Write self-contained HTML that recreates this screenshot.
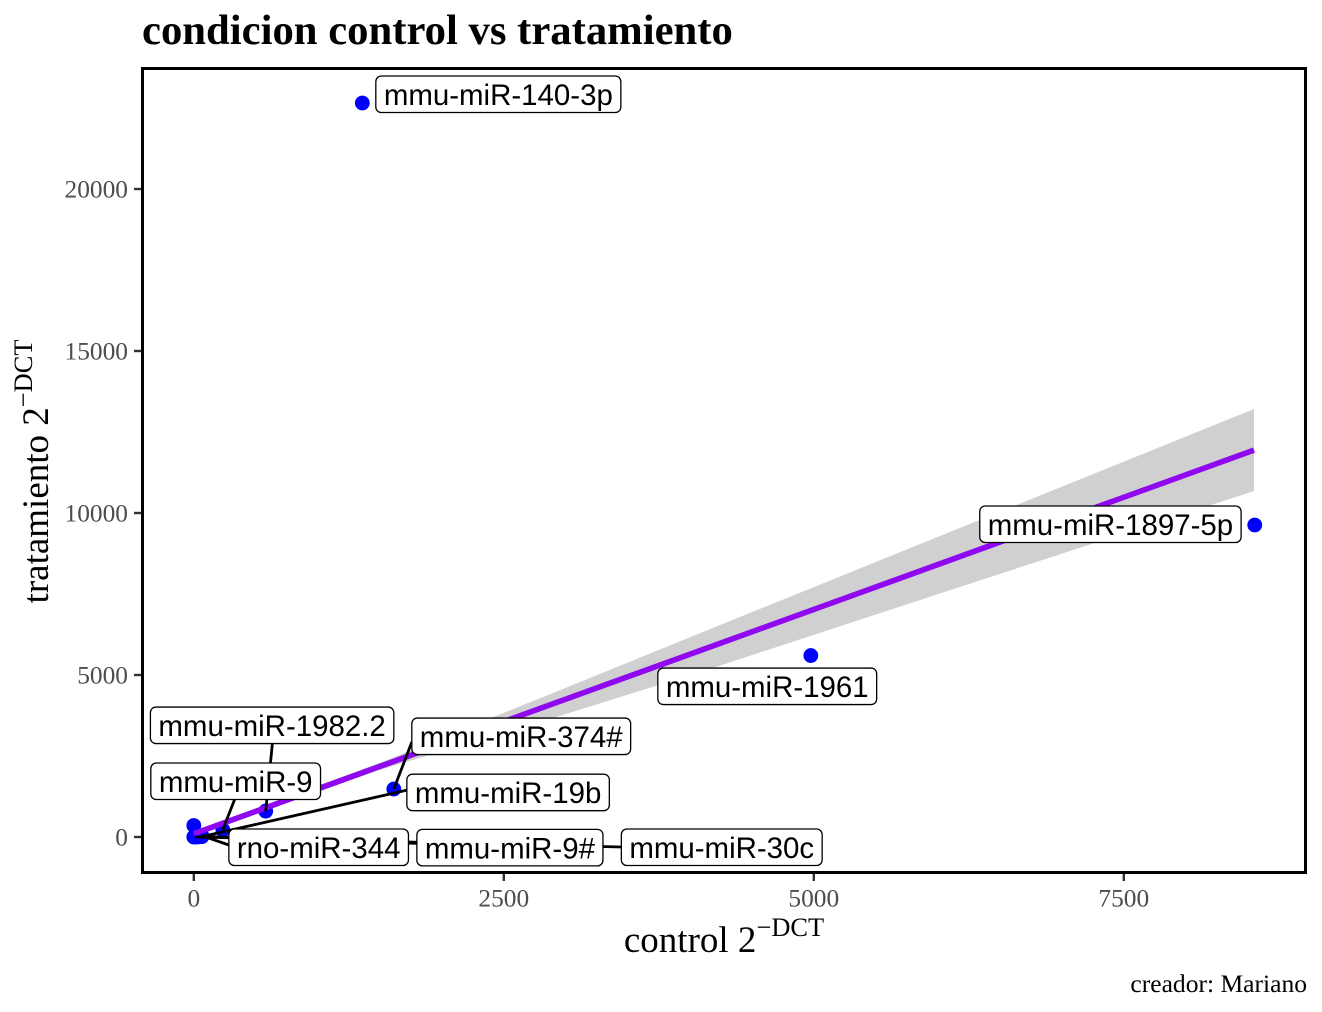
<!DOCTYPE html>
<html lang="es">
<head>
<meta charset="utf-8">
<title>condicion control vs tratamiento</title>
<style>
html,body{margin:0;padding:0;background:#fff;}
svg{display:block;}
.serif{font-family:"Liberation Serif",serif;}
.lbl{font-family:"Liberation Sans",sans-serif;font-size:29.45px;fill:#000;}
</style>
</head>
<body>
<svg id="chart" xmlns="http://www.w3.org/2000/svg" width="1322" height="1012" viewBox="0 0 1322 1012">
  <rect x="0" y="0" width="1322" height="1012" fill="#fff"/>
  <text class="serif" x="142" y="43.8" font-size="42.7" font-weight="bold" fill="#000">condicion control vs tratamiento</text>
  <g id="ribbon-layer"></g>
  <g id="point-layer"></g>
  <g id="line-layer"></g>
  <g id="label-layer"></g>
  <rect x="142.5" y="68.5" width="1163" height="804" fill="none" stroke="#000" stroke-width="3"/>
  <g id="axis-layer"></g>
  <text class="serif" x="724" y="952" text-anchor="middle" font-size="37" fill="#000">control 2<tspan dy="-16" font-size="26.4">−DCT</tspan></text>
  <text class="serif" transform="translate(48 471.5) rotate(-90)" text-anchor="middle" font-size="37" fill="#000">tratamiento 2<tspan dy="-16" font-size="26.4">−DCT</tspan></text>
  <text class="serif" x="1307" y="992" text-anchor="end" font-size="25.55" fill="#000">creador: Mariano</text>
</svg>
<script>
// ---- data ----
const pointNames = ["mmu-miR-140-3p","mmu-miR-1897-5p","mmu-miR-1961","mmu-miR-374#","mmu-miR-1982.2","mmu-miR-9","mmu-miR-19b","rno-miR-344","mmu-miR-9#","mmu-miR-30c","","",""];
const controlValues = [1359,8556,4976,1613,580,234,65,65,65,10,0,0,30];
const tratamientoValues = [22654,9630,5600,1480,800,225,10,40,20,0,355,0,0];
const trendControl = [0,8550];
const trendTratamiento = [100,11940];
const bandControl = [0,1500,2976,4185,6177,8550];
const bandUpper = [170,2290,4568,6450,9537,13210];
const bandLower = [30,2070,3765,5216,7716,10680];
const xTickValues = [0,2500,5000,7500];
const yTickValues = [0,5000,10000,15000,20000];

// ---- label layout: box offset from its point and leader anchor on the box ----
const labelLayout = {
  "mmu-miR-140-3p":{dx:13.5,dy:-27,ax:null,ay:null},
  "mmu-miR-1897-5p":{dx:-275,dy:-19,ax:null,ay:null},
  "mmu-miR-1961":{dx:-153,dy:12.5,ax:null,ay:null},
  "mmu-miR-374#":{dx:18,dy:-71,ax:0,ay:24},
  "mmu-miR-1982.2":{dx:-115.3,dy:-104,ax:122,ay:36},
  "mmu-miR-9":{dx:-72,dy:-66.7,ax:84,ay:36},
  "mmu-miR-19b":{dx:205,dy:-62.5,ax:0,ay:16},
  "rno-miR-344":{dx:27,dy:-6.7,ax:0,ay:16},
  "mmu-miR-9#":{dx:215,dy:-7,ax:0,ay:14},
  "mmu-miR-30c":{dx:426.3,dy:-8,ax:0,ay:18}
};

// ---- axis functions ----
const xScale = v => 193.8 + v * 0.124;
const yScale = v => 837 - v * 0.0324;

const NS = "http://www.w3.org/2000/svg";
const mk = (tag, parent, props) => {
  const el = document.createElementNS(NS, tag);
  for (const k in props) el.setAttribute(k, props[k]);
  parent.appendChild(el);
  return el;
};

// confidence band
const ribbonLayer = document.getElementById("ribbon-layer");
const upperPts = bandControl.map((c, i) => xScale(c) + "," + yScale(bandUpper[i]));
const lowerPts = bandControl.map((c, i) => xScale(c) + "," + yScale(bandLower[i])).reverse();
const band = mk("polygon", ribbonLayer, {points: upperPts.concat(lowerPts).join(" "), fill: "#d0d0d0"});



// points
const pointLayer = document.getElementById("point-layer");
controlValues.forEach((c, i) => {
  const dot = mk("circle", pointLayer, {cx: xScale(c), cy: yScale(tratamientoValues[i]), r: 7.4, fill: "#0000ff"});
  
  
});

// trend line
const lineLayer = document.getElementById("line-layer");
const trend = mk("line", lineLayer, {
  x1: xScale(trendControl[0]), y1: yScale(trendTratamiento[0]),
  x2: xScale(trendControl[1]), y2: yScale(trendTratamiento[1]),
  stroke: "#8f08f0", "stroke-width": 5.6
});



// labels
const labelLayer = document.getElementById("label-layer");
const leaderGroup = mk("g", labelLayer, {});


const boxGroup = mk("g", labelLayer, {});


// drawn so that earlier boxes sit beneath later ones
pointNames.forEach((name, i) => {
  if (!name) return;
  const lay = labelLayout[name];
  const px = xScale(controlValues[i]);
  const py = yScale(tratamientoValues[i]);
  const left = px + lay.dx;
  const top = py + lay.dy;
  if (lay.ax !== null) {
    const seg = mk("line", leaderGroup, {x1: px, y1: py, x2: left + lay.ax, y2: top + lay.ay, stroke: "#000", "stroke-width": 2.8});
    
    
  }
  const box = mk("rect", boxGroup, {x: left, y: top, height: 36.5, rx: 5.5, ry: 5.5, fill: "#fff", stroke: "#000", "stroke-width": 1.3});
  
  
  const txt = mk("text", boxGroup, {x: left + 8, y: top + 29, class: "lbl"});
  
  
  txt.textContent = name;
  box.setAttribute("width", txt.getComputedTextLength() + 16);
});

// axes
const axisLayer = document.getElementById("axis-layer");
xTickValues.forEach(v => {
  const t = mk("line", axisLayer, {x1: xScale(v), x2: xScale(v), y1: 874, y2: 881, stroke: "#333", "stroke-width": 2.4});
  
  
  const l = mk("text", axisLayer, {x: xScale(v), y: 906.5, "text-anchor": "middle", "font-size": 25.4, fill: "#4d4d4d", class: "serif"});
  
  
  l.textContent = v;
});
yTickValues.forEach(v => {
  const t = mk("line", axisLayer, {x1: 134, x2: 141, y1: yScale(v), y2: yScale(v), stroke: "#333", "stroke-width": 2.4});
  
  
  const l = mk("text", axisLayer, {x: 128, y: yScale(v) + 8.4, "text-anchor": "end", "font-size": 25.4, fill: "#4d4d4d", class: "serif"});
  
  
  l.textContent = v;
});
</script>
</body>
</html>
